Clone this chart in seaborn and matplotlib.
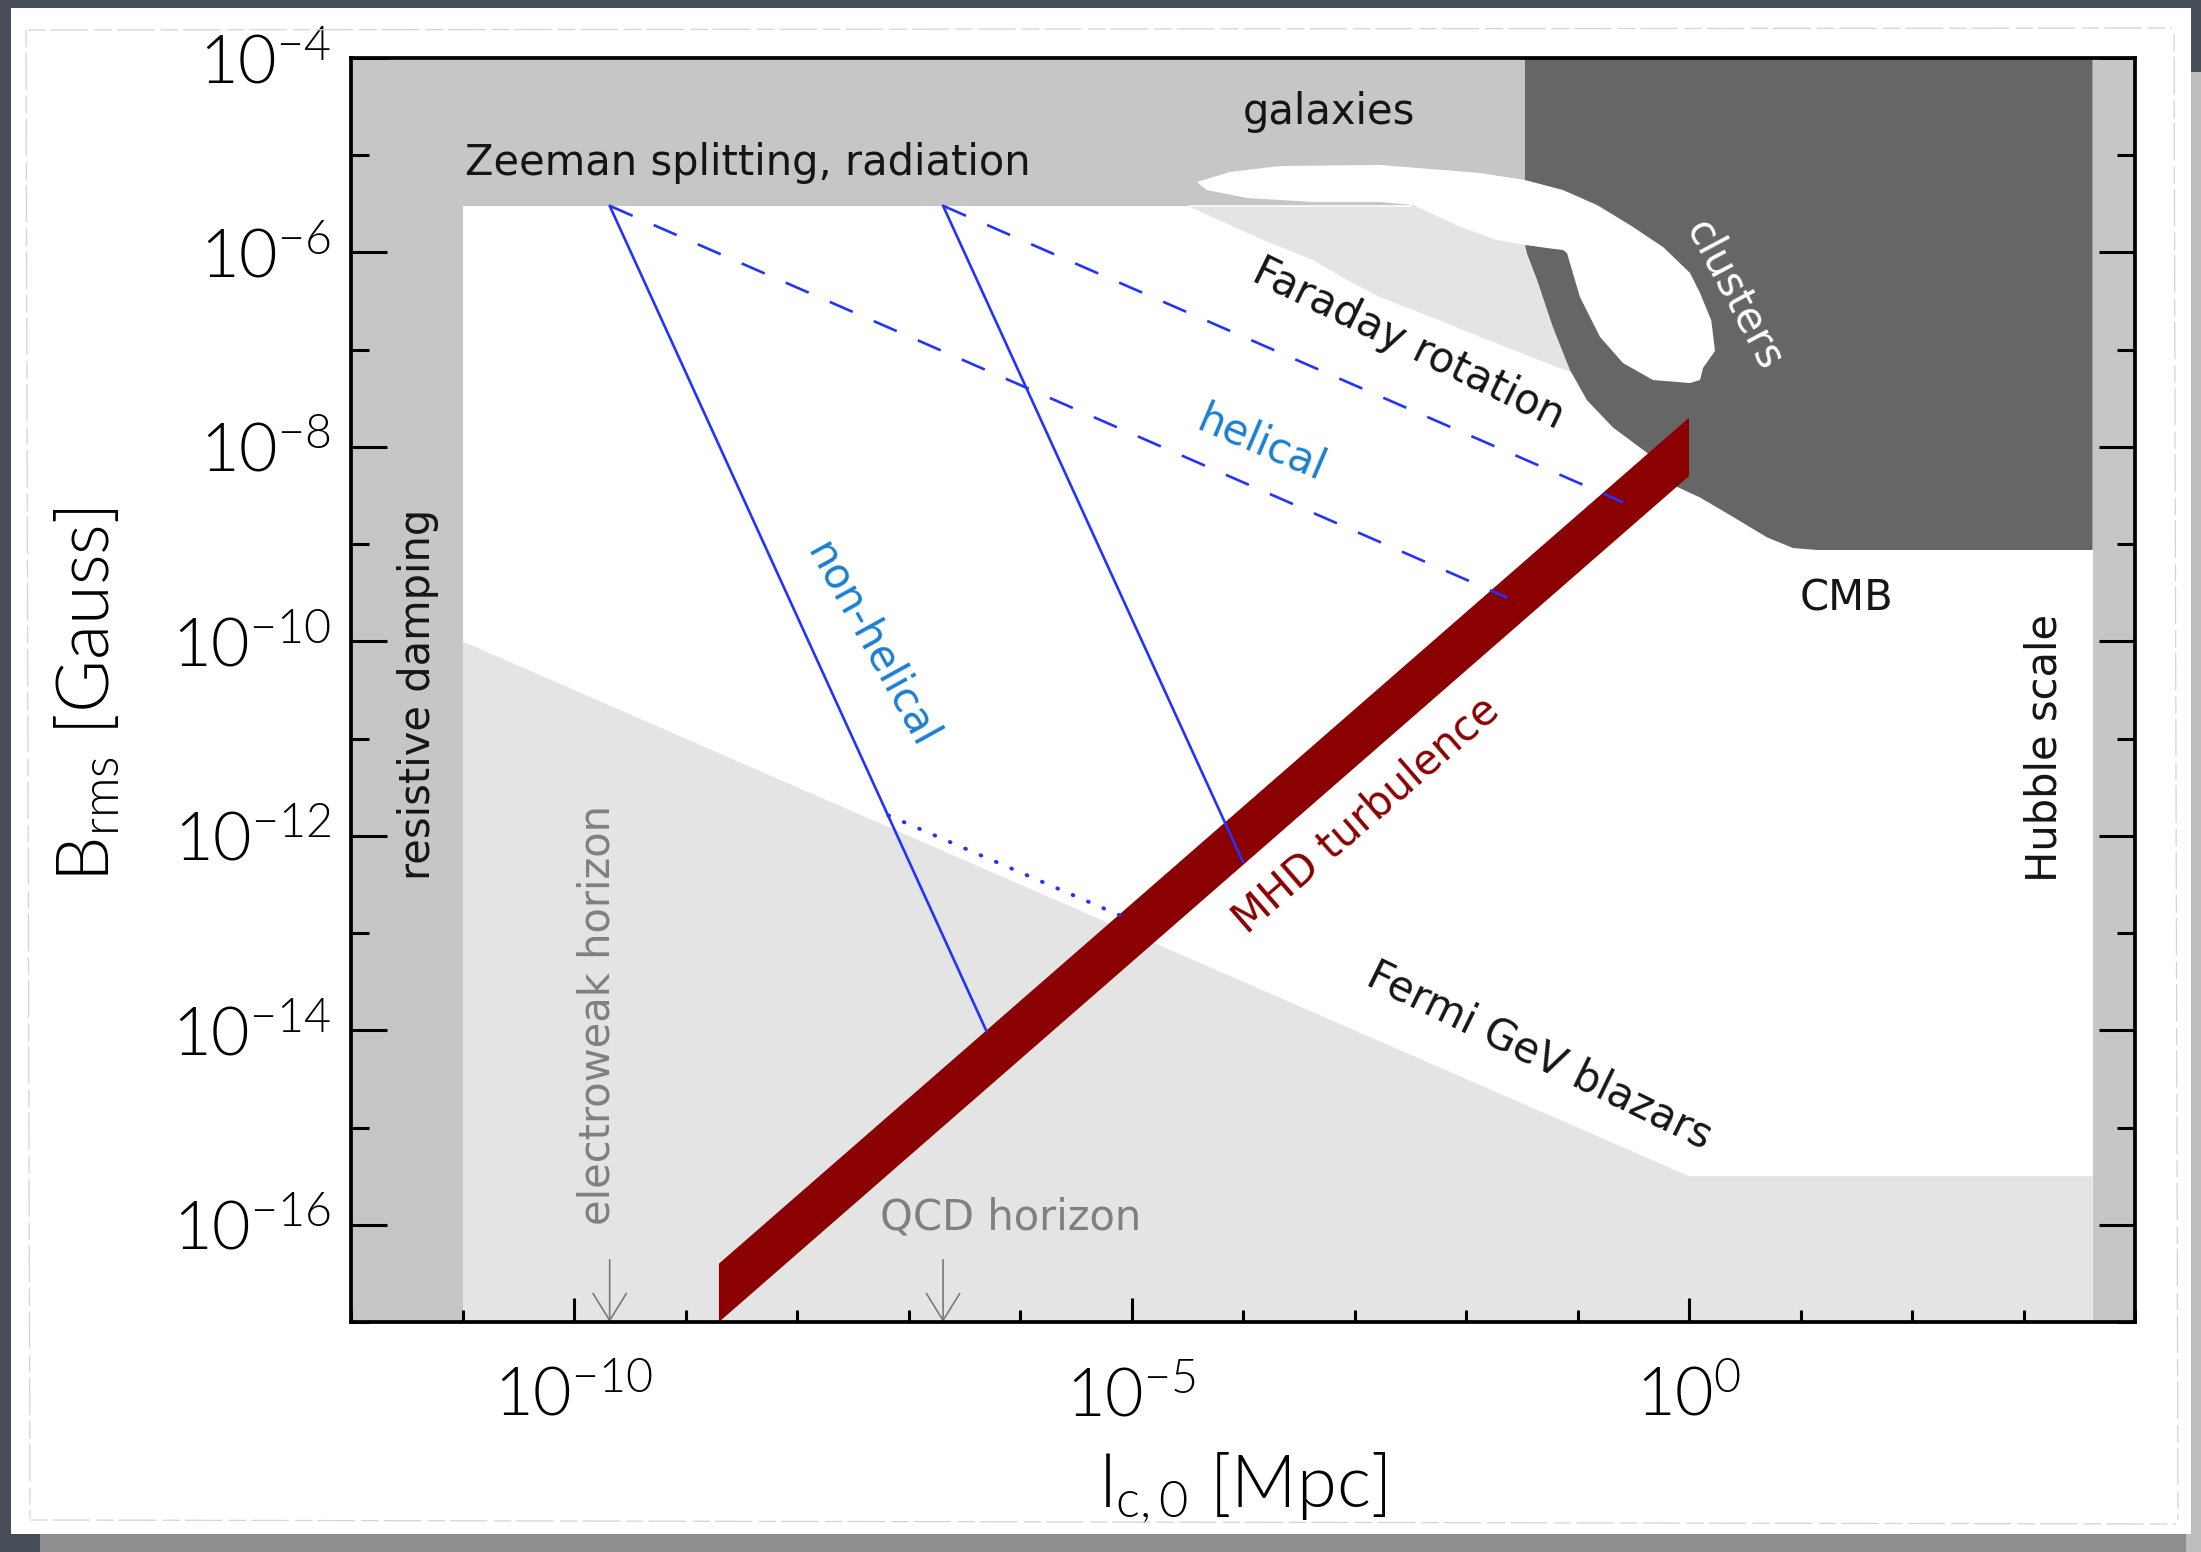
import numpy as np
import matplotlib
matplotlib.use("Agg")
import matplotlib.pyplot as plt
from matplotlib import font_manager as fm
from matplotlib.patches import Rectangle
from matplotlib.lines import Line2D
from matplotlib.ticker import FixedLocator, FuncFormatter, NullFormatter
import seaborn as sns

# ---------------------------------------------------------------
# Data (all values are log10 exponents: l in Mpc, B in Gauss)
# ---------------------------------------------------------------
L_LIM = (-12.0, 4.0)
B_LIM = (-17.0, -4.0)

resistive_edge = -11.0          # resistive damping scale
hubble_edge = 3.62              # Hubble scale
zeeman_edge = -5.52             # Zeeman splitting / radiation bound
cluster_left = -1.471           # left edge of the cluster region

fermi_lx = [-11.0, 0.0, 3.62, 3.62, -11.0]
fermi_ly = [-10.0, -15.5, -15.5, -17.0, -17.0]

faraday_lx = [-4.48, -4.27, -3.82, -3.37, -3.07, -2.77, -2.32, -1.87,
              -1.58, -1.27, -1.00, -1.00]
faraday_ly = [-5.53, -5.64, -5.87, -6.08, -6.28, -6.46, -6.66, -6.87,
              -7.00, -7.14, -7.26, -5.52]

cluster_lx = [-1.471, -1.471, -1.453, -1.363, -1.220, -1.067, -0.915,
              -0.682, -0.377, -0.108, 0.099, 0.395, 0.700, 0.933, 1.148,
              3.62, 3.62]
cluster_ly = [-4.0, -5.92, -6.01, -6.28, -6.77, -7.21, -7.52, -7.80,
              -8.06, -8.41, -8.52, -8.72, -8.93, -9.04, -9.06, -9.06, -4.0]

galaxy_lx = [-4.413, -4.117, -3.668, -2.771, -1.874, -1.471, -1.130,
             -0.825, -0.529, -0.233, 0.009, 0.099, 0.200, 0.233, 0.126,
             0.099, 0.009, -0.323, -0.592, -0.798, -0.978, -1.094,
             -1.130, -1.274, -1.471, -1.722, -2.027, -2.323, -2.475,
             -2.771, -3.372, -3.964, -4.323]
galaxy_ly = [-5.275, -5.172, -5.111, -5.100, -5.183, -5.255, -5.358,
             -5.512, -5.718, -5.944, -6.211, -6.417, -6.700, -7.013,
             -7.188, -7.312, -7.343, -7.312, -7.137, -6.869, -6.458,
             -6.006, -5.975, -5.954, -5.923, -5.872, -5.748, -5.594,
             -5.512, -5.481, -5.481, -5.440, -5.358]

# MHD turbulence band
mhd_lx = [-8.7, 0.0, 0.0, -8.7]
mhd_ly = [-17.0, -8.3, -7.7, -16.4]

# evolution tracks
nonhelical_a_lx = [-9.68, -6.30]
nonhelical_a_ly = [-5.52, -14.01]
nonhelical_b_lx = [-6.69, -4.00]
nonhelical_b_ly = [-5.52, -12.27]
helical_a_lx = [-9.68, -1.63]
helical_a_ly = [-5.52, -9.55]
helical_b_lx = [-6.69, -0.59]
helical_b_ly = [-5.52, -8.57]
dotted_lx = [-7.18, -5.10]
dotted_ly = [-11.79, -12.82]

# horizon scales
electroweak_l = -9.68
qcd_l = -6.69

x_major = [-10, -5, 0]
x_minor = [k for k in range(-12, 5) if k % 5 != 0]
y_major = list(range(-16, -3, 2))
y_minor = list(range(-17, -4, 2))


def p(v):
    return np.power(10.0, np.asarray(v, dtype=float))


def light_family():
    """Return the first sans family that ships a true Light (300) face."""
    for fam in ["Lato", "Open Sans", "Roboto", "Noto Sans", "Inter"]:
        for f in fm.fontManager.ttflist:
            if f.name == fam and f.weight == 300 and f.style == "normal":
                return fam
    return None


# ---------------------------------------------------------------
# Style
# ---------------------------------------------------------------
sns.set_theme(style="white")
LIGHT_FAM = light_family()
AXIS_FAM = LIGHT_FAM or "Lato"
AXIS_WEIGHT = 300 if LIGHT_FAM else "normal"
plt.rcParams["font.family"] = [AXIS_FAM, "DejaVu Sans"]
plt.rcParams["font.weight"] = AXIS_WEIGHT
plt.rcParams["mathtext.fontset"] = "custom"
plt.rcParams["mathtext.rm"] = AXIS_FAM
plt.rcParams["mathtext.it"] = AXIS_FAM + ":italic"
plt.rcParams["mathtext.bf"] = AXIS_FAM + ":bold"

W, H = 2201, 1552
fig = plt.figure(figsize=(W / 100, H / 100), dpi=100, facecolor="#474c59")


def fx(px):
    return px / W


def fy(py):
    return 1 - py / H


# paper sheet with a soft shadow
fig.patches.append(Rectangle((fx(40), fy(1552)), fx(2161), 22 / H,
                             transform=fig.transFigure, facecolor="#8e8e8e",
                             edgecolor="none", zorder=-12))
fig.patches.append(Rectangle((fx(2186), fy(1552)), fx(15), 1480 / H,
                             transform=fig.transFigure, facecolor="#bdbdbd",
                             edgecolor="none", zorder=-12))
fig.patches.append(Rectangle((fx(11), fy(1534)), fx(2180), 1526 / H,
                             transform=fig.transFigure, facecolor="white",
                             edgecolor="none", zorder=-11))
for xs, ys in [([28, 2172], [30, 28]), ([26, 30], [30, 1518]),
               ([30, 2176], [1520, 1524]), ([2174, 2178], [34, 1520])]:
    fig.lines.append(Line2D([fx(xs[0]), fx(xs[1])], [fy(ys[0]), fy(ys[1])],
                            transform=fig.transFigure, color="#d4d4d4",
                            lw=0.9, dashes=(14, 4, 30, 5)))

ax = fig.add_axes([fx(351), fy(1322), fx(2135 - 351), (1322 - 58) / H])
ax.set_facecolor("white")
ax.set_xscale("log")
ax.set_yscale("log")
ax.set_xlim(p(L_LIM[0]), p(L_LIM[1]))
ax.set_ylim(p(B_LIM[0]), p(B_LIM[1]))

LIGHT = "#e4e4e4"
MID = "#c6c6c6"
DARK = "#666666"
RED = "#8b0000"
BLUE = "#2233ff"

# observational / theoretical regions
ax.fill(p(fermi_lx), p(fermi_ly), color=LIGHT, lw=0, zorder=1)
ax.fill(p(faraday_lx + [-4.48]), p(faraday_ly + [-5.52]), color=LIGHT, lw=0,
        zorder=1)
ax.fill_between(p([L_LIM[0], cluster_left]), p(zeeman_edge), p(B_LIM[1]),
                color=MID, lw=0, zorder=2)
ax.plot(p([-4.48, -2.48]), p([zeeman_edge, zeeman_edge]), color="white",
        lw=1.1, zorder=2.2)
ax.fill(p(cluster_lx), p(cluster_ly), color=DARK, lw=0, zorder=2)
ax.fill(p(galaxy_lx), p(galaxy_ly), color="white", lw=0, zorder=3)
ax.axvspan(p(L_LIM[0]), p(resistive_edge), color=MID, lw=0, zorder=3)
ax.axvspan(p(hubble_edge), p(L_LIM[1]), color=MID, lw=0, zorder=3)

# MHD turbulence band
ax.fill(p(mhd_lx), p(mhd_ly), color=RED, lw=0, zorder=4)

# evolution tracks
sns.lineplot(x=p(nonhelical_a_lx), y=p(nonhelical_a_ly), ax=ax, color=BLUE,
             lw=1.9, estimator=None, zorder=6)
sns.lineplot(x=p(nonhelical_b_lx), y=p(nonhelical_b_ly), ax=ax, color=BLUE,
             lw=1.9, estimator=None, zorder=6)
for lx, ly in [(helical_a_lx, helical_a_ly), (helical_b_lx, helical_b_ly)]:
    ax.plot(p(lx), p(ly), color=BLUE, lw=1.9, dashes=(9.5, 8.7), zorder=6)
ax.plot(p(dotted_lx), p(dotted_ly), color=BLUE, lw=2.8, dashes=(0.2, 4.1),
        dash_capstyle="round", zorder=6)

# horizon arrows
for lh in (electroweak_l, qcd_l):
    ax.annotate("", xy=(p(lh), p(B_LIM[0])), xytext=(p(lh), p(-16.36)),
                arrowprops=dict(arrowstyle="->,head_length=0.97,head_width=0.6",
                                color="#7a7a7a", lw=1.2, shrinkA=0, shrinkB=0,
                                mutation_scale=20),
                zorder=7)

# labels inside the plot
TXT = "#151515"
FS = 30
ANN = ["DejaVu Sans"]
kw = dict(rotation_mode="anchor", ha="center", va="center", zorder=10,
          family=ANN, fontweight="normal")
ax.text(p(-10.98), p(-5.08), "Zeeman splitting, radiation", fontsize=FS,
        color=TXT, ha="left", va="center", zorder=10, family=ANN,
        fontweight="normal")
ax.text(p(-3.23), p(-4.555), "galaxies", fontsize=FS, color=TXT, **kw)
ax.text(p(0.404), p(-6.437), "clusters", fontsize=FS, color="white",
        rotation=-62, **kw)
ax.text(p(-2.52), p(-6.94), "Faraday rotation", fontsize=FS, color=TXT,
        rotation=-26, **kw)
ax.text(p(-3.84), p(-7.97), "helical", fontsize=FS, color="#1b7fd1",
        rotation=-23, **kw)
ax.text(p(-7.33), p(-10.03), "non-helical", fontsize=FS, color="#1b7fd1",
        rotation=-61, **kw)
ax.text(p(-2.90), p(-11.78), "MHD turbulence", fontsize=FS, color=RED,
        rotation=41, **kw)
ax.text(p(1.41), p(-9.56), "CMB", fontsize=FS, color=TXT, **kw)
ax.text(p(3.19), p(-11.10), "Hubble scale", fontsize=FS, color=TXT,
        rotation=90, **kw)
ax.text(p(-11.40), p(-10.55), "resistive damping", fontsize=FS, color=TXT,
        rotation=90, **kw)
ax.text(p(-1.34), p(-14.26), "Fermi GeV blazars", fontsize=FS, color=TXT,
        rotation=-26, **kw)
ax.text(p(-9.79), p(-13.84), "electroweak horizon", fontsize=FS,
        color="#808080", rotation=90, **kw)
ax.text(p(-6.08), p(-15.93), "QCD horizon", fontsize=FS, color="#808080",
        **kw)

# axes, ticks, labels
ax.xaxis.set_major_locator(FixedLocator(p(x_major)))
ax.xaxis.set_minor_locator(FixedLocator(p(x_minor)))
ax.yaxis.set_major_locator(FixedLocator(p(y_major)))
ax.yaxis.set_minor_locator(FixedLocator(p(y_minor)))
fmt = FuncFormatter(
    lambda v, pos: r"$\mathregular{10^{%d}}$" % int(round(np.log10(v))))
ax.xaxis.set_major_formatter(fmt)
ax.yaxis.set_major_formatter(fmt)
ax.xaxis.set_minor_formatter(NullFormatter())
ax.yaxis.set_minor_formatter(NullFormatter())

ax.tick_params(axis="both", which="both", direction="in", colors="black",
               width=2.2, labelsize=48, labelcolor="black")
ax.tick_params(axis="y", which="both", left=True, right=True)
ax.tick_params(axis="x", which="both", bottom=True, top=False)
ax.tick_params(axis="y", which="major", length=26, pad=14)
ax.tick_params(axis="y", which="minor", length=13)
ax.tick_params(axis="x", which="major", length=17, pad=32)
ax.tick_params(axis="x", which="minor", length=9)
ax.xaxis.set_zorder(20)
ax.yaxis.set_zorder(20)
for s in ax.spines.values():
    s.set_linewidth(2.7)
    s.set_color("black")
    s.set_zorder(20)

ax.set_xlabel(r"$\mathregular{l_{c,0}}$ [Mpc]", fontsize=52, color="black",
              fontweight=AXIS_WEIGHT)
ax.set_ylabel(r"$\mathregular{B_{rms}}$ [Gauss]", fontsize=52, color="black",
              fontweight=AXIS_WEIGHT)
ax.xaxis.set_label_coords(0.5, -(1450 - 1322) / (1322 - 58))
ax.yaxis.set_label_coords(-(351 - 122) / (2135 - 351), (1322 - 695) / (1322 - 58))

fig.savefig("out.png", dpi=100)
